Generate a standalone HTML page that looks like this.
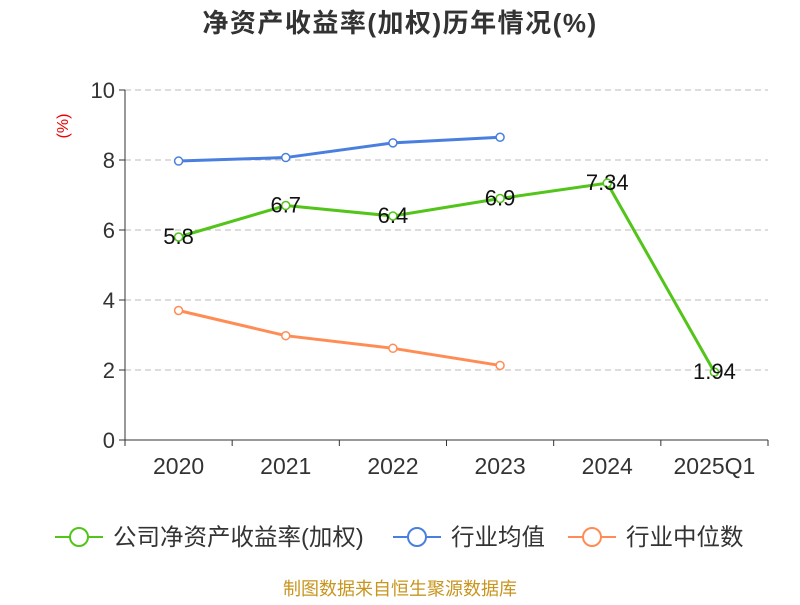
<!DOCTYPE html>
<html><head><meta charset="utf-8">
<style>
body{margin:0;background:#fff;}
svg text{font-family:"Liberation Sans","Noto Sans CJK SC",sans-serif;}
</style></head>
<body>
<svg id="chart" width="800" height="600" xmlns="http://www.w3.org/2000/svg">
<text x="400" y="32" text-anchor="middle" font-size="26" font-weight="bold" letter-spacing="1.5" fill="#333">净资产收益率(加权)历年情况(%)</text>
<text x="0" y="0" transform="translate(68,126) rotate(-90)" text-anchor="middle" font-size="16" fill="#e00">(%)</text>
<g id="grid"></g><g id="axes"></g><g id="series"></g>
<g>
<g>
<line x1="55" y1="537" x2="103" y2="537" stroke="#52c41a" stroke-width="2"/><circle cx="79" cy="537" r="9" fill="#fff" stroke="#52c41a" stroke-width="2"/>
<text x="113" y="545" font-size="23.5" fill="#333">公司净资产收益率(加权)</text></g>
<g>
<line x1="393" y1="537" x2="441" y2="537" stroke="#4a7fe0" stroke-width="2"/><circle cx="417" cy="537" r="9" fill="#fff" stroke="#4a7fe0" stroke-width="2"/>
<text x="451" y="545" font-size="23.5" fill="#333">行业均值</text></g>
<g>
<line x1="568" y1="537" x2="616" y2="537" stroke="#ff8c55" stroke-width="2"/><circle cx="592" cy="537" r="9" fill="#fff" stroke="#ff8c55" stroke-width="2"/>
<text x="626" y="545" font-size="23.5" fill="#333">行业中位数</text></g>
</g>
<text x="400" y="595" text-anchor="middle" font-size="18" fill="#c8951e">制图数据来自恒生聚源数据库</text>
</svg>
<script>
const categories=["2020","2021","2022","2023","2024","2025Q1"];
const companyValues=[5.8,6.7,6.4,6.9,7.34,1.94];
const companyLabels=["5.8","6.7","6.4","6.9","7.34","1.94"];
const industryAvg=[7.97,8.07,8.49,8.65];
const industryMedian=[3.7,2.98,2.62,2.13];
const yTicks=[0,2,4,6,8,10];

const NS="http://www.w3.org/2000/svg";
const L=125,R=768,T=90,B=440;
const band=(R-L)/categories.length;
const xs=i=>L+band*(i+0.5);
const ys=v=>B-(v/10)*(B-T);
function mk(tag,attrs,parent){const e=document.createElementNS(NS,tag);for(const k in attrs)e.setAttribute(k,attrs[k]);parent.appendChild(e);return e;}
const grid=document.getElementById('grid'),axes=document.getElementById('axes'),ser=document.getElementById('series');
yTicks.forEach(t=>{
  if(t>0){const g=mk('line',{x1:L,x2:R,y1:ys(t),y2:ys(t),stroke:'#bbb','stroke-dasharray':'6,4'},grid);
  
  }
  const tk=mk('line',{x1:L-6,x2:L,y1:ys(t),y2:ys(t),stroke:'#333'},axes);
  
  
  const tx=mk('text',{x:L-10,y:ys(t)+8,'text-anchor':'end','font-size':22,fill:'#333'},axes);tx.textContent=t;
  
  
});
const ya=mk('line',{x1:L,x2:L,y1:T,y2:B,stroke:'#333'},axes);


const xa=mk('line',{x1:L,x2:R,y1:B,y2:B,stroke:'#333'},axes);


for(let i=0;i<=categories.length;i++){const tk=mk('line',{x1:L+band*i,x2:L+band*i,y1:B,y2:B+6,stroke:'#333'},axes);

}
categories.forEach((c,i)=>{const tx=mk('text',{x:xs(i),y:B+34,'text-anchor':'middle','font-size':23,fill:'#333'},axes);tx.textContent=c;

});
function series(vals,color,name){
  const p=mk('polyline',{points:vals.map((v,i)=>xs(i)+','+ys(v)).join(' '),fill:'none',stroke:color,'stroke-width':3},ser);
  
  
  vals.forEach((v,i)=>{const c=mk('circle',{cx:xs(i),cy:ys(v),r:4,fill:'#fff',stroke:color,'stroke-width':1.5},ser);
  
  });
}
series(industryAvg,'#4a7fe0','industry-avg');
series(industryMedian,'#ff8c55','industry-median');
series(companyValues,'#52c41a','company');
companyValues.forEach((v,i)=>{const tx=mk('text',{x:xs(i),y:ys(v)+7,'text-anchor':'middle','font-size':22,fill:'#111'},ser);tx.textContent=companyLabels[i];

});
</script>
</body></html>
